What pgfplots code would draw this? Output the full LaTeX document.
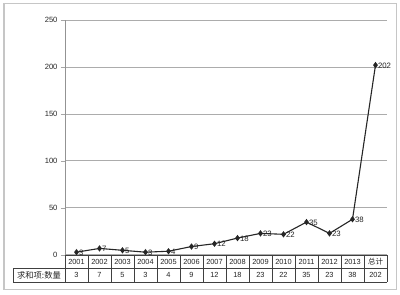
\documentclass[border=0pt]{standalone}
\usepackage{fontspec}
\setmainfont{Liberation Sans}
\newfontfamily\cjk{Noto Sans CJK SC}
\usepackage{pgfplots}
\pgfplotsset{compat=1.18}
\pgfplotstableread{
x y
0 3
1 7
2 5
3 3
4 4
5 9
6 12
7 18
8 23
9 22
10 35
11 23
12 38
13 202
}\datatable
\begin{document}
\begin{tikzpicture}[x=1pt,y=1pt]
\fill[white] (0,0) rectangle (400,295);
\draw[gray!45, line width=1pt] (4,5) rectangle (396,291);
\begin{axis}[
  at={(65pt,40pt)}, anchor=south west,
  scale only axis, width=322pt, height=235pt,
  xmin=-0.5, xmax=13.5, ymin=0, ymax=250,
  axis x line=none,
  axis y line*=left,
  y axis line style={-, gray!85, line width=0.9pt},
  ytick={0,50,100,150,200,250},
  ymajorgrids,
  grid style={gray!65, line width=1pt},
  tick align=outside,
  major tick length=4pt,
  ytick style={gray!70, line width=0.9pt},
  yticklabel style={font=\fontsize{7.6}{8}\selectfont, text=black!85},
  /pgf/number format/assume math mode=true,
  clip=false,
]
\addplot[black!85, line width=1.1pt, mark=diamond*, mark size=2.3pt,
  nodes near coords,
  every node near coord/.append style={anchor=west, font=\fontsize{7.8}{8}\selectfont, text=black!85, inner sep=1pt, xshift=1pt, yshift=-0.3pt}]
  table[x=x,y=y] {\datatable};
\end{axis}
% data table
\draw[black!75, line width=0.6pt] (65,40) -- (387,40);
\draw[black!75, line width=0.6pt] (13,27) -- (387,27);
\draw[black!75, line width=0.6pt] (13,13) -- (387,13);
\draw[black!75, line width=0.6pt] (13,13) -- (13,27);
\foreach \k in {0,...,14} {
  \draw[black!75, line width=0.6pt] (65+23*\k,13) -- (65+23*\k,40);
}
\foreach \lab [count=\i from 0] in {2001,2002,2003,2004,2005,2006,2007,2008,2009,2010,2011,2012,2013} {
  \node[font=\fontsize{7.4}{8}\selectfont, text=black!85] at (76.5+23*\i,33.5) {\lab};
}
\node[font=\cjk\fontsize{7.5}{8}\selectfont, text=black!85] at (375.5,33.5) {总计};
\foreach \v [count=\i from 0] in {3,7,5,3,4,9,12,18,23,22,35,23,38,202} {
  \node[font=\fontsize{7.4}{8}\selectfont, text=black!85] at (76.5+23*\i,20) {\v};
}
\node[font=\cjk\fontsize{8.3}{9}\selectfont, text=black!85] at (39,20) {求和项:数量};
\end{tikzpicture}
\end{document}
